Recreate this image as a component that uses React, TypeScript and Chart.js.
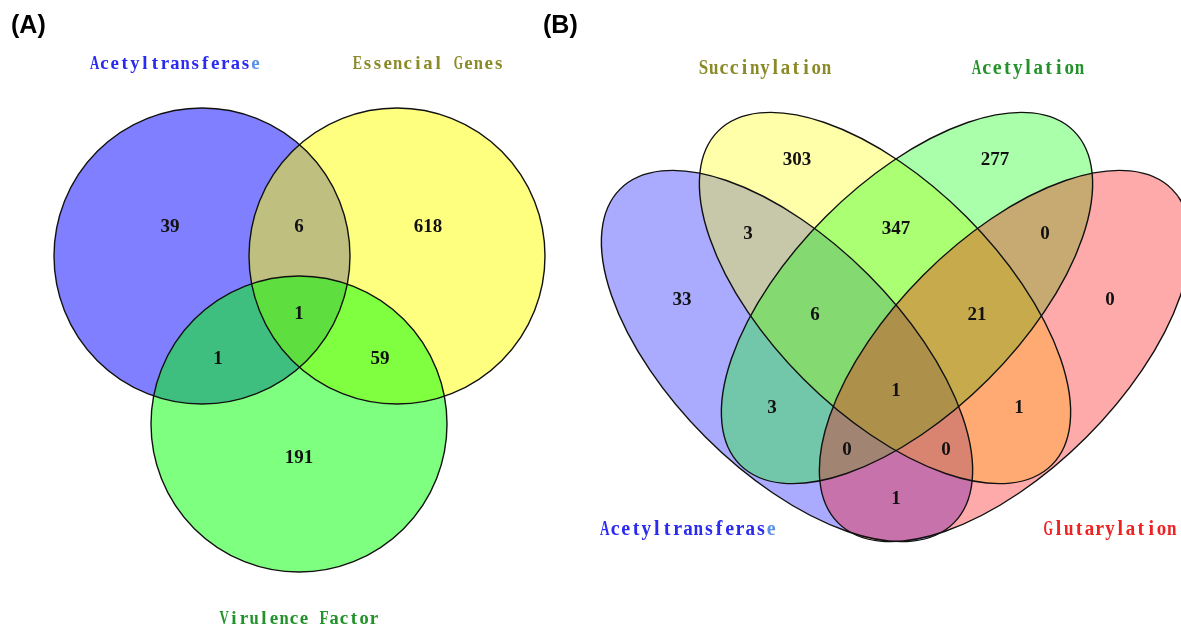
import { useEffect, useRef } from "react";
import { Chart, registerables } from "chart.js";

Chart.register(...registerables);

// ---------------- data ----------------
const panelTags = ["(A)", "(B)"];

const setsA = ["Acetyltransferase", "Essencial Genes", "Virulence Factor"];
const regionsA = ["A", "E", "V", "A&E", "A&V", "E&V", "A&E&V"];
const countsA = [39, 618, 191, 6, 1, 59, 1];

const setsB = ["Acetyltransferase", "Succinylation", "Acetylation", "Glutarylation"];
const regionsB = [
  "T", "S", "A", "G",
  "T&S", "S&A", "A&G",
  "T&S&A", "S&A&G", "T&A",
  "T&S&A&G", "S&G",
  "T&A&G", "T&S&G", "T&G",
];
const countsB = [33, 303, 277, 0, 3, 347, 0, 6, 21, 3, 1, 1, 0, 0, 1];

// ---------------- layout (positions / styles) ----------------
const W = 1181;
const H = 629;

type Shape = { cx: number; cy: number; rx: number; ry: number; rot: number; color: string };

const shapesA: Shape[] = [
  { cx: 202, cy: 256, rx: 148, ry: 148, rot: 0, color: "rgba(0,0,255,0.5)" },
  { cx: 397, cy: 256, rx: 148, ry: 148, rot: 0, color: "rgba(255,255,0,0.5)" },
  { cx: 299, cy: 424, rx: 148, ry: 148, rot: 0, color: "rgba(0,255,0,0.5)" },
];
const ELA = 236;
const ELB = 115;
const shapesB: Shape[] = [
  { cx: 787, cy: 356, rx: ELA, ry: ELB, rot: 45, color: "rgba(0,0,255,0.3333)" },
  { cx: 885, cy: 298, rx: ELA, ry: ELB, rot: 45, color: "rgba(255,255,0,0.3333)" },
  { cx: 907, cy: 298, rx: ELA, ry: ELB, rot: 135, color: "rgba(0,255,0,0.3333)" },
  { cx: 1005, cy: 356, rx: ELA, ry: ELB, rot: 135, color: "rgba(255,0,0,0.3333)" },
];

const posA: Record<string, [number, number]> = {
  A: [170, 225],
  E: [428, 225],
  V: [299, 456],
  "A&E": [299, 225],
  "A&V": [218, 357],
  "E&V": [380, 357],
  "A&E&V": [299, 312],
};
const posB: Record<string, [number, number]> = {
  T: [682, 298],
  S: [797, 158],
  A: [995, 158],
  G: [1110, 298],
  "T&S": [748, 232],
  "S&A": [896, 227],
  "A&G": [1045, 232],
  "T&S&A": [815, 313],
  "S&A&G": [977, 313],
  "T&A": [772, 406],
  "T&S&A&G": [896, 389],
  "S&G": [1019, 406],
  "T&A&G": [847, 448],
  "T&S&G": [946, 448],
  "T&G": [896, 497],
};

type LabelLayout = { cx: number; base: number; pitch: number; size: number; color: string; last?: string };
const labelLayoutA: LabelLayout[] = [
  { cx: 175, base: 69, pitch: 10.06, size: 19, color: "#2a2af0", last: "#5a90e6" },
  { cx: 428, base: 69, pitch: 10.1, size: 19, color: "#8a8a28" },
  { cx: 299, base: 624, pitch: 10.0, size: 19, color: "#22922a" },
];
const labelLayoutB: LabelLayout[] = [
  { cx: 688, base: 535, pitch: 10.4, size: 20, color: "#2a2af0", last: "#5a90e6" },
  { cx: 765, base: 74, pitch: 10.25, size: 20, color: "#8a8a28" },
  { cx: 1028, base: 74, pitch: 10.3, size: 20, color: "#22922a" },
  { cx: 1110, base: 535, pitch: 10.3, size: 20, color: "#ee2222" },
];
const tagPos: [number, number][] = [
  [11, 33],
  [543, 33],
];

const LABEL_FAMILY = "'Liberation Serif', 'DejaVu Serif', serif";
const COUNT_FONT = "bold 19px 'Liberation Serif', 'DejaVu Serif', serif";
const TAG_FONT = "bold 25px 'Liberation Sans', Arial, sans-serif";

function drawSpaced(ctx: CanvasRenderingContext2D, text: string, l: LabelLayout) {
  const n = text.length;
  const start = l.cx - (n * l.pitch) / 2;
  ctx.font = `bold ${l.size}px ${LABEL_FAMILY}`;
  ctx.textAlign = "center";
  ctx.textBaseline = "alphabetic";
  const maxW = l.pitch * 0.92;
  for (let i = 0; i < n; i++) {
    ctx.fillStyle = i === n - 1 && l.last ? l.last : l.color;
    const ch = text[i];
    const w = ctx.measureText(ch).width;
    const sx = w > maxW ? maxW / w : 1;
    ctx.save();
    ctx.translate(start + (i + 0.5) * l.pitch, l.base);
    ctx.scale(sx, 1);
    ctx.fillText(ch, 0, 0);
    ctx.restore();
  }
}

const vennPlugin = {
  id: "vennShapes",
  beforeDatasetsDraw(chart: any) {
    const { ctx, scales } = chart;
    const xs = scales.x;
    const ys = scales.y;
    const path = (s: Shape) => {
      const px = xs.getPixelForValue(s.cx);
      const py = ys.getPixelForValue(s.cy);
      const rxp = Math.abs(xs.getPixelForValue(s.cx + s.rx) - px);
      const ryp = Math.abs(ys.getPixelForValue(s.cy + s.ry) - py);
      ctx.beginPath();
      ctx.ellipse(px, py, rxp, ryp, (s.rot * Math.PI) / 180, 0, Math.PI * 2);
    };
    ctx.save();
    for (const group of [shapesA, shapesB]) {
      for (const s of group) {
        path(s);
        ctx.fillStyle = s.color;
        ctx.fill();
      }
      for (const s of group) {
        path(s);
        ctx.strokeStyle = "#111";
        ctx.lineWidth = 1.4;
        ctx.stroke();
      }
    }
    ctx.restore();
  },
  afterDatasetsDraw(chart: any) {
    const { ctx } = chart;
    ctx.save();
    ctx.font = COUNT_FONT;
    ctx.fillStyle = "#111";
    ctx.textAlign = "center";
    ctx.textBaseline = "alphabetic";
    chart.data.datasets.forEach((ds: any, di: number) => {
      const meta = chart.getDatasetMeta(di);
      meta.data.forEach((el: any, i: number) => {
        ctx.fillText(String(ds.data[i].v), el.x, el.y + 7);
      });
    });
    setsA.forEach((name, i) => drawSpaced(ctx, name, labelLayoutA[i]));
    setsB.forEach((name, i) => drawSpaced(ctx, name, labelLayoutB[i]));
    ctx.font = TAG_FONT;
    ctx.fillStyle = "#000";
    ctx.textAlign = "left";
    panelTags.forEach((t, i) => ctx.fillText(t, tagPos[i][0], tagPos[i][1]));
    ctx.restore();
  },
};

export default function App() {
  const ref = useRef<HTMLCanvasElement | null>(null);
  useEffect(() => {
    if (!ref.current) return;
    const chart = new Chart(ref.current, {
      type: "scatter",
      data: {
        datasets: [
          {
            label: "Panel A",
            data: regionsA.map((r, i) => ({ x: posA[r][0], y: posA[r][1], v: countsA[i] })) as any,
            pointRadius: 0,
            pointHoverRadius: 0,
          },
          {
            label: "Panel B",
            data: regionsB.map((r, i) => ({ x: posB[r][0], y: posB[r][1], v: countsB[i] })) as any,
            pointRadius: 0,
            pointHoverRadius: 0,
          },
        ],
      },
      options: {
        responsive: false,
        maintainAspectRatio: false,
        animation: false,
        devicePixelRatio: 1,
        layout: { padding: 0 },
        events: [],
        scales: {
          x: { type: "linear", min: 0, max: W, display: false },
          y: { type: "linear", min: 0, max: H, reverse: true, display: false },
        },
        plugins: { legend: { display: false }, tooltip: { enabled: false } },
      },
      plugins: [vennPlugin],
    });
    return () => chart.destroy();
  }, []);
  return (
    <div style={{ position: "absolute", left: 0, top: 0, width: W, height: H, background: "#fff" }}>
      <canvas ref={ref} width={W} height={H} style={{ display: "block" }} />
    </div>
  );
}
